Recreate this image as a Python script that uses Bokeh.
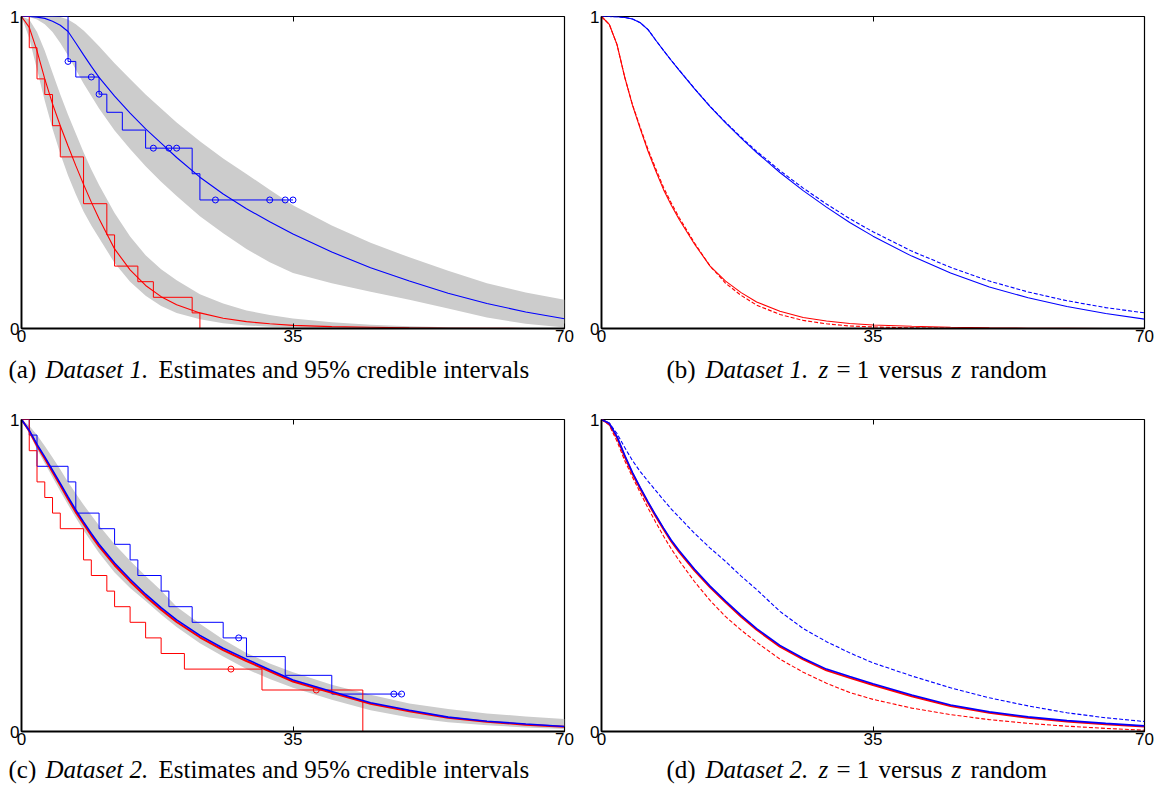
from bokeh.plotting import figure
from bokeh.layouts import row, column
from bokeh.models import Range1d, FixedTicker, LinearAxis
from bokeh.core.properties import value
from bokeh.embed import file_html
from bokeh.resources import INLINE

BLUE = "#0000ff"
RED = "#ff0000"
GREY = "#cccccc"

X_TICKS = [0, 35, 70]
Y_TICKS = [0, 1]

# common time grid for the smooth curves
T = [0, 1, 2, 3, 4, 5, 6, 7, 8, 9, 10, 12, 14, 16, 18, 20, 23, 26, 29, 32, 35, 40, 45, 50, 55, 60, 65, 70]

# ---- (a) Dataset 1: estimates and 95% credible intervals
A_BLUE_EST = [1.0, 1.0, 0.998, 0.994, 0.985, 0.972, 0.952, 0.915, 0.877, 0.84, 0.805, 0.745, 0.69, 0.64,
              0.594, 0.548, 0.485, 0.431, 0.384, 0.342, 0.303, 0.245, 0.195, 0.152, 0.113, 0.08, 0.053, 0.031]
A_BLUE_HI = [1.0, 1.0, 1.0, 1.0, 1.0, 0.998, 0.99, 0.975, 0.955, 0.93, 0.905, 0.85, 0.80, 0.75,
             0.705, 0.66, 0.60, 0.545, 0.495, 0.445, 0.395, 0.33, 0.275, 0.228, 0.185, 0.145, 0.115, 0.092]
A_BLUE_LO = [1.0, 0.998, 0.99, 0.975, 0.95, 0.915, 0.875, 0.83, 0.785, 0.745, 0.705, 0.635, 0.575, 0.52,
             0.47, 0.425, 0.36, 0.305, 0.255, 0.212, 0.178, 0.145, 0.118, 0.092, 0.064, 0.035, 0.015, 0.003]
A_RED_EST = [1.0, 0.965, 0.89, 0.80, 0.72, 0.65, 0.585, 0.522, 0.462, 0.405, 0.352, 0.255, 0.188, 0.138,
             0.102, 0.076, 0.05, 0.033, 0.022, 0.015, 0.01, 0.006, 0.004, 0.002, 0.001, 0.0005, 0.0002, 0.0]
A_RED_HI = [1.0, 0.99, 0.95, 0.89, 0.82, 0.75, 0.685, 0.625, 0.565, 0.51, 0.46, 0.37, 0.295, 0.235,
            0.19, 0.155, 0.11, 0.08, 0.058, 0.043, 0.032, 0.02, 0.012, 0.007, 0.004, 0.002, 0.001, 0.0005]
A_RED_LO = [1.0, 0.93, 0.83, 0.73, 0.64, 0.56, 0.49, 0.43, 0.375, 0.33, 0.29, 0.21, 0.15, 0.105,
            0.072, 0.05, 0.03, 0.017, 0.01, 0.006, 0.003, 0.001, 0.0, 0.0, 0.0, 0.0, 0.0, 0.0]

A_BLUE_KM_T = [0, 6, 7, 10, 11, 13, 16, 22, 23, 35]
A_BLUE_KM_S = [1.0, 0.856, 0.806, 0.751, 0.693, 0.636, 0.578, 0.496, 0.412, 0.412]
A_BLUE_CENS_T = [6, 9, 10, 17, 19, 20, 25, 32, 34, 35]
A_BLUE_CENS_S = [0.856, 0.806, 0.751, 0.578, 0.578, 0.578, 0.412, 0.412, 0.412, 0.412]
A_RED_KM_T = [0, 1, 2, 3, 4, 5, 8, 11, 12, 15, 17, 22, 23]
A_RED_KM_S = [1.0, 0.9, 0.8, 0.75, 0.65, 0.55, 0.4, 0.3, 0.2, 0.15, 0.1, 0.05, 0.0]

# ---- (b) Dataset 1: z = 1 (solid) versus z random (dashed)
B_BLUE_SOLID = [1.0, 1.0, 0.999, 0.997, 0.992, 0.98, 0.958, 0.924, 0.891, 0.859, 0.828, 0.768, 0.711, 0.659,
                0.61, 0.564, 0.5, 0.442, 0.389, 0.34, 0.296, 0.232, 0.178, 0.133, 0.0985, 0.0705, 0.048, 0.03]
B_BLUE_DASH = [1.0, 1.0, 0.999, 0.997, 0.992, 0.98, 0.958, 0.924, 0.891, 0.859, 0.829, 0.769, 0.712, 0.661,
               0.613, 0.568, 0.506, 0.45, 0.399, 0.352, 0.31, 0.248, 0.196, 0.152, 0.117, 0.089, 0.067, 0.05]
B_RED_SOLID = [1.0, 0.975, 0.91, 0.805, 0.715, 0.64, 0.568, 0.505, 0.445, 0.395, 0.35, 0.27, 0.2, 0.152,
               0.115, 0.085, 0.055, 0.035, 0.024, 0.016, 0.011, 0.007, 0.004, 0.002, 0.001, 0.0005, 0.0002, 0.0]
B_RED_DASH = [1.0, 0.975, 0.91, 0.805, 0.717, 0.644, 0.574, 0.512, 0.452, 0.402, 0.356, 0.274, 0.2, 0.145,
              0.106, 0.075, 0.045, 0.026, 0.015, 0.008, 0.005, 0.002, 0.001, 0.0, 0.0, 0.0, 0.0, 0.0]

# ---- (c) Dataset 2: estimates and 95% credible intervals
C_BLUE_EST = [1.0, 0.965, 0.92, 0.88, 0.838, 0.795, 0.752, 0.71, 0.672, 0.635, 0.6, 0.54, 0.488, 0.44,
              0.397, 0.358, 0.308, 0.267, 0.232, 0.198, 0.165, 0.128, 0.092, 0.068, 0.046, 0.033, 0.024, 0.016]
C_RED_EST = [1.0, 0.963, 0.916, 0.875, 0.832, 0.789, 0.745, 0.703, 0.665, 0.628, 0.593, 0.533, 0.481, 0.433,
             0.39, 0.351, 0.302, 0.261, 0.226, 0.193, 0.16, 0.124, 0.089, 0.065, 0.044, 0.031, 0.022, 0.015]
C_HI = [1.0, 0.98, 0.95, 0.915, 0.878, 0.84, 0.80, 0.763, 0.727, 0.693, 0.66, 0.60, 0.547, 0.498,
        0.452, 0.40, 0.345, 0.295, 0.252, 0.218, 0.19, 0.15, 0.118, 0.09, 0.072, 0.058, 0.048, 0.04]
C_LO = [1.0, 0.955, 0.905, 0.86, 0.815, 0.77, 0.727, 0.685, 0.645, 0.608, 0.572, 0.51, 0.46, 0.418,
        0.375, 0.335, 0.283, 0.24, 0.2, 0.168, 0.14, 0.102, 0.068, 0.045, 0.03, 0.02, 0.013, 0.008]

C_BLUE_KM_T = [0, 1, 2, 6, 7, 10, 12, 14, 15, 18, 19, 22, 26, 29, 34, 40, 49]
C_BLUE_KM_S = [1.0, 0.95, 0.85, 0.80, 0.70, 0.65, 0.60, 0.55, 0.50, 0.45, 0.40, 0.35, 0.30, 0.24, 0.18, 0.12, 0.12]
C_BLUE_CENS_T = [28, 48, 49]
C_BLUE_CENS_S = [0.30, 0.12, 0.12]
C_RED_KM_T = [0, 1, 2, 3, 4, 5, 8, 9, 11, 12, 14, 16, 18, 21, 31, 44]
C_RED_KM_S = [1.0, 0.90, 0.80, 0.75, 0.70, 0.65, 0.55, 0.50, 0.45, 0.40, 0.35, 0.30, 0.25, 0.20, 0.133, 0.0]
C_RED_CENS_T = [27, 38]
C_RED_CENS_S = [0.20, 0.133]

# ---- (d) Dataset 2: z = 1 (solid) versus z random (dashed)
D_BLUE_SOLID = [1.0, 0.988, 0.945, 0.885, 0.83, 0.782, 0.736, 0.693, 0.652, 0.613, 0.58, 0.52, 0.466, 0.418,
                0.372, 0.33, 0.276, 0.235, 0.2, 0.176, 0.153, 0.117, 0.085, 0.063, 0.047, 0.035, 0.026, 0.018]
D_RED_SOLID = [1.0, 0.986, 0.942, 0.881, 0.826, 0.778, 0.732, 0.689, 0.648, 0.609, 0.576, 0.516, 0.462, 0.414,
               0.368, 0.326, 0.272, 0.231, 0.196, 0.172, 0.149, 0.113, 0.082, 0.06, 0.044, 0.032, 0.023, 0.016]
D_BLUE_DASH = [1.0, 0.988, 0.955, 0.91, 0.868, 0.833, 0.802, 0.772, 0.742, 0.713, 0.687, 0.635, 0.588, 0.545,
               0.498, 0.455, 0.385, 0.33, 0.288, 0.252, 0.22, 0.178, 0.14, 0.108, 0.082, 0.06, 0.044, 0.032]
D_RED_DASH = [1.0, 0.982, 0.93, 0.868, 0.815, 0.765, 0.716, 0.67, 0.626, 0.585, 0.548, 0.48, 0.42, 0.368,
              0.325, 0.286, 0.232, 0.19, 0.155, 0.125, 0.103, 0.075, 0.054, 0.038, 0.026, 0.017, 0.01, 0.004]

# captions: text segments and their styles
CAP_LEFT_1 = ["(a)", "Dataset 1.", "Estimates and 95% credible intervals"]
CAP_LEFT_2 = ["(c)", "Dataset 2.", "Estimates and 95% credible intervals"]
CAP_RIGHT_1 = ["(b)", "Dataset 1.", "z", "= 1", "versus", "z", "random"]
CAP_RIGHT_2 = ["(d)", "Dataset 2.", "z", "= 1", "versus", "z", "random"]
CAP_LEFT_ITALIC = [False, True, False]
CAP_RIGHT_ITALIC = [False, True, True, False, False, True, False]

# layout (pixels)
FW, FH = 543, 312
TOTAL_W = 1156
CAP_FONT = "Liberation Serif"
CAP_SIZE = "25px"
TICK_FONT = "Liberation Sans"
TICK_SIZE = "17px"
CAP_LEFT_X = [8, 45, 158]
CAP_RIGHT_X = [666, 705, 818, 836, 878, 951, 970]


def make_fig(bl, br, bt, bb):
    p = figure(width=bl + FW + br, height=bt + FH + bb,
               x_range=Range1d(0, 70), y_range=Range1d(0, 1),
               output_backend="svg", toolbar_location=None,
               min_border_left=bl, min_border_right=br,
               min_border_top=bt, min_border_bottom=bb)
    p.grid.visible = False
    p.background_fill_color = "white"
    p.border_fill_color = "white"
    p.outline_line_color = "black"
    p.outline_line_width = 1.2
    p.xaxis.ticker = FixedTicker(ticks=X_TICKS)
    p.yaxis.ticker = FixedTicker(ticks=Y_TICKS)
    for ax in (p.xaxis[0], p.yaxis[0]):
        ax.axis_line_color = "black"
        ax.axis_line_width = 1.8
        ax.minor_tick_line_color = None
        ax.major_tick_line_color = "black"
        ax.major_label_text_font = TICK_FONT
        ax.major_label_text_font_size = TICK_SIZE
        ax.major_label_text_color = "black"
    p.xaxis.major_label_standoff = 1
    p.yaxis.major_label_standoff = 2
    p.xaxis.major_tick_in = 5
    p.xaxis.major_tick_out = 0
    p.yaxis.major_tick_in = 0
    p.yaxis.major_tick_out = 0
    top = LinearAxis(ticker=FixedTicker(ticks=[35]), major_tick_in=5, major_tick_out=0,
                     major_label_text_font_size="1px", major_label_text_color=None,
                     major_label_text_alpha=0, major_label_standoff=0,
                     axis_line_color=None, minor_tick_line_color=None,
                     major_tick_line_color="black")
    p.add_layout(top, "above")
    return p


def caption_fig(height, mid_y, segs_l, segs_r):
    c = figure(width=TOTAL_W, height=height, x_range=Range1d(0, TOTAL_W), y_range=Range1d(0, height),
               output_backend="svg", toolbar_location=None, min_border=0, title=None,
               x_axis_location=None, y_axis_location=None)
    c.grid.visible = False
    c.outline_line_color = None
    c.background_fill_color = "white"
    c.border_fill_color = "white"
    segs = list(zip(CAP_LEFT_X, segs_l, CAP_LEFT_ITALIC)) + list(zip(CAP_RIGHT_X, segs_r, CAP_RIGHT_ITALIC))
    for italic in (False, True):
        xs = [x for x, s, it in segs if it == italic]
        ts = [s for x, s, it in segs if it == italic]
        c.text(x=xs, y=[mid_y] * len(xs), text=ts,
               text_font=value(CAP_FONT), text_font_size=value(CAP_SIZE),
               text_font_style=value("italic" if italic else "normal"),
               text_color="black", text_align=value("left"), text_baseline=value("middle"))
    return c


# (a)
pa = make_fig(21, 17, 16, 23)
pa.varea(x=T, y1=A_BLUE_LO, y2=A_BLUE_HI, fill_color=GREY)
pa.varea(x=T, y1=A_RED_LO, y2=A_RED_HI, fill_color=GREY)
pa.step(A_BLUE_KM_T, A_BLUE_KM_S, mode="after", line_color=BLUE, line_width=1)
pa.step(A_RED_KM_T, A_RED_KM_S, mode="after", line_color=RED, line_width=1)
pa.scatter(A_BLUE_CENS_T, A_BLUE_CENS_S, marker="circle", size=6, fill_color=None, line_color=BLUE, line_width=1)
pa.line(T, A_BLUE_EST, line_color=BLUE, line_width=1.1)
pa.line(T, A_RED_EST, line_color=RED, line_width=1.1)

# (b)
pb = make_fig(20, 12, 16, 23)
pb.line(T, B_BLUE_DASH, line_color=BLUE, line_width=1.1, line_dash="4 2")
pb.line(T, B_RED_DASH, line_color=RED, line_width=1.1, line_dash="4 2")
pb.line(T, B_BLUE_SOLID, line_color=BLUE, line_width=1.1)
pb.line(T, B_RED_SOLID, line_color=RED, line_width=1.1)

# (c)
pc = make_fig(21, 17, 27, 23)
pc.varea(x=T, y1=C_LO, y2=C_HI, fill_color=GREY)
pc.step(C_BLUE_KM_T, C_BLUE_KM_S, mode="after", line_color=BLUE, line_width=1)
pc.step(C_RED_KM_T, C_RED_KM_S, mode="after", line_color=RED, line_width=1)
pc.scatter(C_BLUE_CENS_T, C_BLUE_CENS_S, marker="circle", size=6, fill_color=None, line_color=BLUE, line_width=1)
pc.scatter(C_RED_CENS_T, C_RED_CENS_S, marker="circle", size=6, fill_color=None, line_color=RED, line_width=1)
pc.line(T, C_RED_EST, line_color=RED, line_width=2)
pc.line(T, C_BLUE_EST, line_color=BLUE, line_width=1.6)

# (d)
pd_ = make_fig(20, 12, 27, 23)
pd_.line(T, D_BLUE_DASH, line_color=BLUE, line_width=1.1, line_dash="4 2")
pd_.line(T, D_RED_DASH, line_color=RED, line_width=1.1, line_dash="4 2")
pd_.line(T, D_RED_SOLID, line_color=RED, line_width=2)
pd_.line(T, D_BLUE_SOLID, line_color=BLUE, line_width=1.6)

# caption rows: row 1 spans y 351..392, row 2 spans y 754..785 (page pixels)
cap1 = caption_fig(41, 23, CAP_LEFT_1, CAP_RIGHT_1)
cap2 = caption_fig(31, 16, CAP_LEFT_2, CAP_RIGHT_2)

layout = column(row(pa, pb), cap1, row(pc, pd_), cap2)
open("out.html", "w").write(file_html(layout, INLINE))
